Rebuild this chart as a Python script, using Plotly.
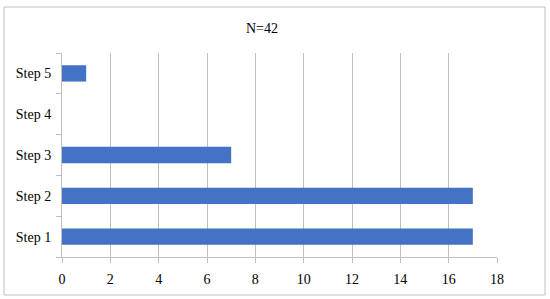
import plotly.graph_objects as go

categories = ["Step 1", "Step 2", "Step 3", "Step 4", "Step 5"]
values = [17, 17, 7, 0, 1]
x_ticks = [0, 2, 4, 6, 8, 10, 12, 14, 16, 18]
title_text = "N=42"

L, R, T, B = 62, 53, 53, 42
W, H = 550, 299
pw, ph = W - L - R, H - T - B

def px_x(x):
    return (x - L) / pw

def px_y(y):
    return (H - B - y) / ph

font = dict(family="Liberation Serif, Times New Roman, serif", size=14, color="#000000")

fig = go.Figure(go.Bar(
    y=categories, x=values, orientation="h",
    marker=dict(color="#4472C4", line=dict(width=0)),
    hoverinfo="skip",
))

fig.update_layout(
    width=W, height=H,
    margin=dict(l=L, r=R, t=T, b=B, autoexpand=False),
    paper_bgcolor="white", plot_bgcolor="white",
    font=font,
    bargap=0.6,
    showlegend=False,
    title=dict(text=title_text, x=262 / W, xref="container", xanchor="center",
               y=1 - 28 / H, yref="container", yanchor="middle", font=font,
               automargin=False),
    xaxis=dict(range=[0, 18], tickvals=x_ticks, showgrid=True, gridcolor="#BFBFBF",
               gridwidth=1, zeroline=False, showline=True, linecolor="#BFBFBF",
               ticks="outside", ticklen=5, tickcolor="#BFBFBF", tickfont=font,
               ticklabelstandoff=4, automargin=False),
    yaxis=dict(categoryorder="array", categoryarray=categories, showgrid=False,
               showline=True, linecolor="#BFBFBF", ticks="outside", ticklen=5,
               tickcolor="#BFBFBF", tickson="boundaries", tickfont=font,
               ticklabelstandoff=7, automargin=False),
    shapes=[dict(type="rect", xref="paper", yref="paper",
                 x0=px_x(4), x1=px_x(545), y0=px_y(295), y1=px_y(7),
                 line=dict(color="#BFBFBF", width=1), layer="below")],
)

fig.write_html("out.html", config={"displayModeBar": False},
               post_script="document.body.style.margin='0px';document.body.style.overflow='hidden';")
